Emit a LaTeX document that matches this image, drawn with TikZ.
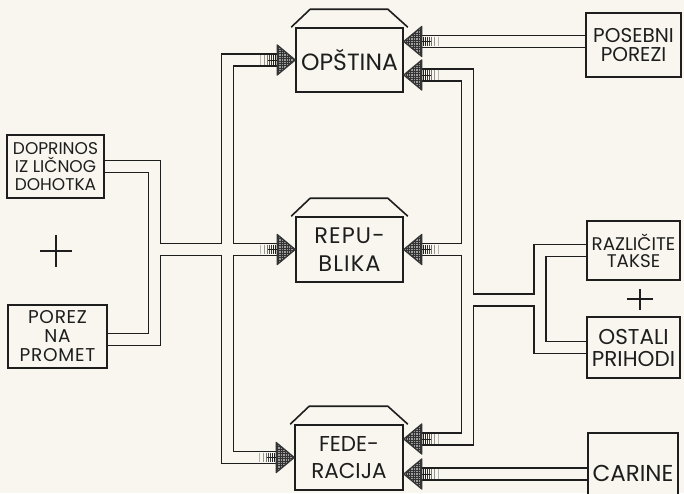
\documentclass[tikz,border=0pt]{standalone}
\usepackage{fontspec}
\setmainfont{Poppins}
\usetikzlibrary{calc}
\definecolor{paper}{RGB}{248,246,238}
\definecolor{ink}{RGB}{30,30,30}
\pgfdeclarelayer{bg}
\pgfdeclarelayer{chanlayer}
\pgfsetlayers{bg,chanlayer,main}
\newcommand\arrhd[2]{%
  \begin{scope}[shift={(#1)}, xscale=#2]
    \begin{scope}
      \clip (0,0) -- (-18,-15) -- (-18,15) -- cycle;
      \fill[black!38] (-19,-16) rectangle (1,16);
      \foreach \k in {-16.5,-14.1,...,0}
        \draw[black!80, line width=0.6pt] (\k,-16) -- (\k,16);
      \foreach \k in {-13.5,-11.1,...,15}
        \draw[black!80, line width=0.6pt] (-19,\k) -- (1,\k);
    \end{scope}
    \draw[ink!90, line width=1.3pt, line join=round] (0,0) -- (-18,-15) -- (-18,15) -- cycle;
    \foreach \t/\o in {1.5/1,3.5/1,5.5/0.9,7.5/0.8,10/0.6,13/0.45,16.5/0.3}
      \draw[ink, line width=1pt, opacity=\o] (-18-\t,-4.8) -- (-18-\t,4.8);
    \draw[ink, line width=0.7pt] (-18,0) -- (-27,0);
  \end{scope}}
\newcommand\roofon[1]{%
  \draw[roofline] ([xshift=-4pt]#1.north west) -- ([xshift=15pt,yshift=18pt]#1.north west)
    -- ([xshift=-16pt,yshift=18pt]#1.north east) -- ([xshift=4pt]#1.north east);}
\begin{document}
\begin{tikzpicture}[x=1pt,y=-1pt,
  box/.style={draw=ink, line width=1.6pt, fill=paper, inner sep=0pt, align=center, text=ink},
  roofline/.style={draw=ink, line width=1.6pt, line join=miter},
  chan/.style={draw=ink, line width=1.7pt, double=paper, double distance=10.5pt, line join=miter, line cap=butt},
  plus/.style={draw=ink, line width=2pt}]
\clip (0,0) rectangle (684,493);
\begin{pgfonlayer}{bg}
\fill[paper] (0,0) rectangle (684,493);
\end{pgfonlayer}
% government boxes
\node[box, minimum width=107pt, minimum height=64pt, font=\fontsize{23.5}{27}\selectfont] (opst) at (349.5,60) {OPŠTINA};
\node[box, minimum width=107pt, minimum height=65pt, font=\fontsize{22.5}{28}\selectfont\addfontfeature{LetterSpace=5}] (repu) at (349.5,249.5) {REPU-\\BLIKA};
\node[box, minimum width=108pt, minimum height=65pt, font=\fontsize{21.5}{27}\selectfont] (fede) at (349,457.5) {FEDE-\\RACIJA};
\roofon{opst}
\roofon{repu}
\roofon{fede}
% source boxes
\node[box, minimum width=95pt, minimum height=64pt, font=\fontsize{20}{18.5}\selectfont] (posebni) at (633.5,45) {POSEBNI\\POREZI};
\node[box, minimum width=93pt, minimum height=59pt, font=\fontsize{18.3}{17}\selectfont] (razl) at (633.5,250.5) {RAZLIČITE\\TAKSE};
\node[box, minimum width=93pt, minimum height=61pt, font=\fontsize{21.5}{22}\selectfont] (ostali) at (633.5,347.5) {OSTALI\\PRIHODI};
\node[box, minimum width=90pt, minimum height=82pt, font=\fontsize{23}{27}\selectfont] (carine) at (633,474) {\raisebox{2pt}{CARINE}};
\node[box, minimum width=97pt, minimum height=63pt, font=\fontsize{17}{18}\selectfont] (dop) at (55.5,166.5) {DOPRINOS\\IZ LIČNOG\\DOHOTKA};
\node[box, minimum width=99pt, minimum height=63pt, font=\fontsize{18.5}{19}\selectfont\addfontfeature{LetterSpace=4}] (porez) at (57.5,336.5) {POREZ\\NA\\PROMET};
% plus signs
\draw[plus] (40,251) -- (72,251) (56,235) -- (56,267);
\draw[plus] (627,299) -- (653,299) (640,289) -- (640,310);
% arrow tips and bases
\coordinate (oL) at (opst.west);
\coordinate (rL) at (repu.west);
\coordinate (fL) at (fede.west);
\coordinate (oR1) at ([yshift=18.5pt]opst.east);
\coordinate (oR2) at ([yshift=-15pt]opst.east);
\coordinate (rR) at (repu.east);
\coordinate (fR1) at ([yshift=18.5pt]fede.east);
\coordinate (fR2) at ([yshift=-16.5pt]fede.east);
\coordinate (oLb) at ([xshift=-18pt]oL);
\coordinate (rLb) at ([xshift=-18pt]rL);
\coordinate (fLb) at ([xshift=-18pt]fL);
\coordinate (oR1b) at ([xshift=18pt]oR1);
\coordinate (oR2b) at ([xshift=18pt]oR2);
\coordinate (rRb) at ([xshift=18pt]rR);
\coordinate (fR1b) at ([xshift=18pt]fR1);
\coordinate (fR2b) at ([xshift=18pt]fR2);
\coordinate (porE) at ([yshift=-3pt]porez.east);
\coordinate (Lv) at (227.5,0);
\coordinate (Lj) at (154.5,0);
\coordinate (Rv) at (467.5,0);
\coordinate (Rj) at (540,300);
% channels
\begin{pgfonlayer}{chanlayer}
\draw[chan] (oLb) -- (oLb -| Lv) -- (fLb -| Lv) -- (fLb)
  (rLb -| Lj) -- (rLb)
  (dop.east) -- (dop.east -| Lj) -- (porE -| Lj) -- (porE);
\draw[chan] (oR2b) -- (oR2b -| Rv) -- (fR1b -| Rv) -- (fR1b)
  (rRb -| Rv) -- (rRb)
  (razl.west) -- (razl.west -| Rj) -- (ostali.west -| Rj) -- (ostali.west)
  (Rj) -- (Rj -| Rv);
\draw[chan] (posebni.west |- oR1) -- (oR1b);
\draw[chan] (carine.west |- fR2) -- (fR2b);
\end{pgfonlayer}
% arrowheads
\arrhd{oL}{1}
\arrhd{rL}{1}
\arrhd{fL}{1}
\arrhd{oR1}{-1}
\arrhd{oR2}{-1}
\arrhd{rR}{-1}
\arrhd{fR1}{-1}
\arrhd{fR2}{-1}
\end{tikzpicture}
\end{document}
